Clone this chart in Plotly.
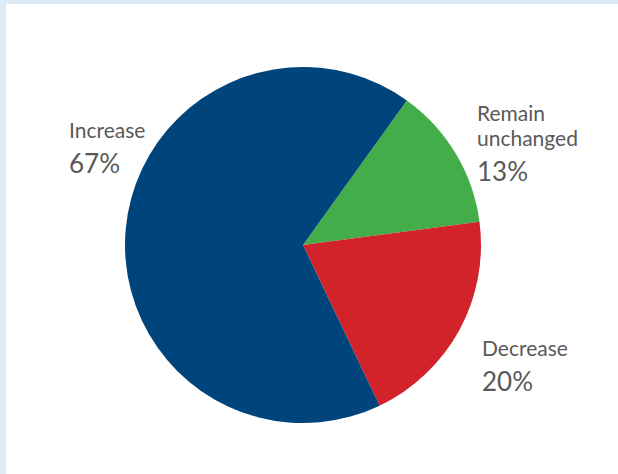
import plotly.graph_objects as go

# Survey outcome shares
categories = ["Remain unchanged", "Decrease", "Increase"]
shares = [13, 20, 67]
colors = ["#43ad49", "#d2232a", "#00447c"]

# Label text blocks: name lines, percent, left x px, top y px
label_names = [["Remain", "unchanged"], ["Decrease"], ["Increase"]]
label_pos = [(475, 98), (480, 333), (67, 115)]

W, H = 618, 474
TEXT = "#595959"
FONT = "Lato"
LINE_GAP = 25  # px between stacked name lines

fig = go.Figure()
fig.add_trace(go.Pie(
    labels=categories,
    values=shares,
    marker=dict(colors=colors, line=dict(width=0)),
    sort=False,
    direction="clockwise",
    rotation=35.7,
    textinfo="none",
    hoverinfo="label+percent",
    showlegend=False,
    domain=dict(x=[125 / W, 481 / W], y=[1 - 423 / H, 1 - 67 / H]),
))

annotations = []
for names, val, (x, y) in zip(label_names, shares, label_pos):
    # base size sets the line gap (1.3em); glyphs drawn at 21px
    block = "<br>".join(f"<span style='font-size:21px'>{n}</span>" for n in names)
    annotations.append(dict(
        x=x / W, y=1 - y / H, xref="paper", yref="paper",
        xanchor="left", yanchor="top", align="left", showarrow=False,
        text=block, font=dict(family=FONT, size=LINE_GAP / 1.3, color=TEXT),
    ))
    cy = y + 22 * len(names) + 8 + (LINE_GAP - 22) * (len(names) - 1)
    annotations.append(dict(
        x=x / W, y=1 - cy / H, xref="paper", yref="paper",
        xanchor="left", yanchor="top", showarrow=False,
        text=f"{val}%", font=dict(family=FONT, size=26, color=TEXT),
    ))

fig.update_layout(
    width=W, height=H,
    margin=dict(l=0, r=0, t=0, b=0),
    paper_bgcolor="#dcebf6",
    plot_bgcolor="#dcebf6",
    shapes=[dict(
        type="rect", xref="paper", yref="paper",
        x0=6 / W, x1=1.01, y0=-0.01, y1=1 - 4 / H,
        fillcolor="white", line=dict(width=0), layer="below",
    )],
    annotations=annotations,
)

fig.write_html("out.html")
